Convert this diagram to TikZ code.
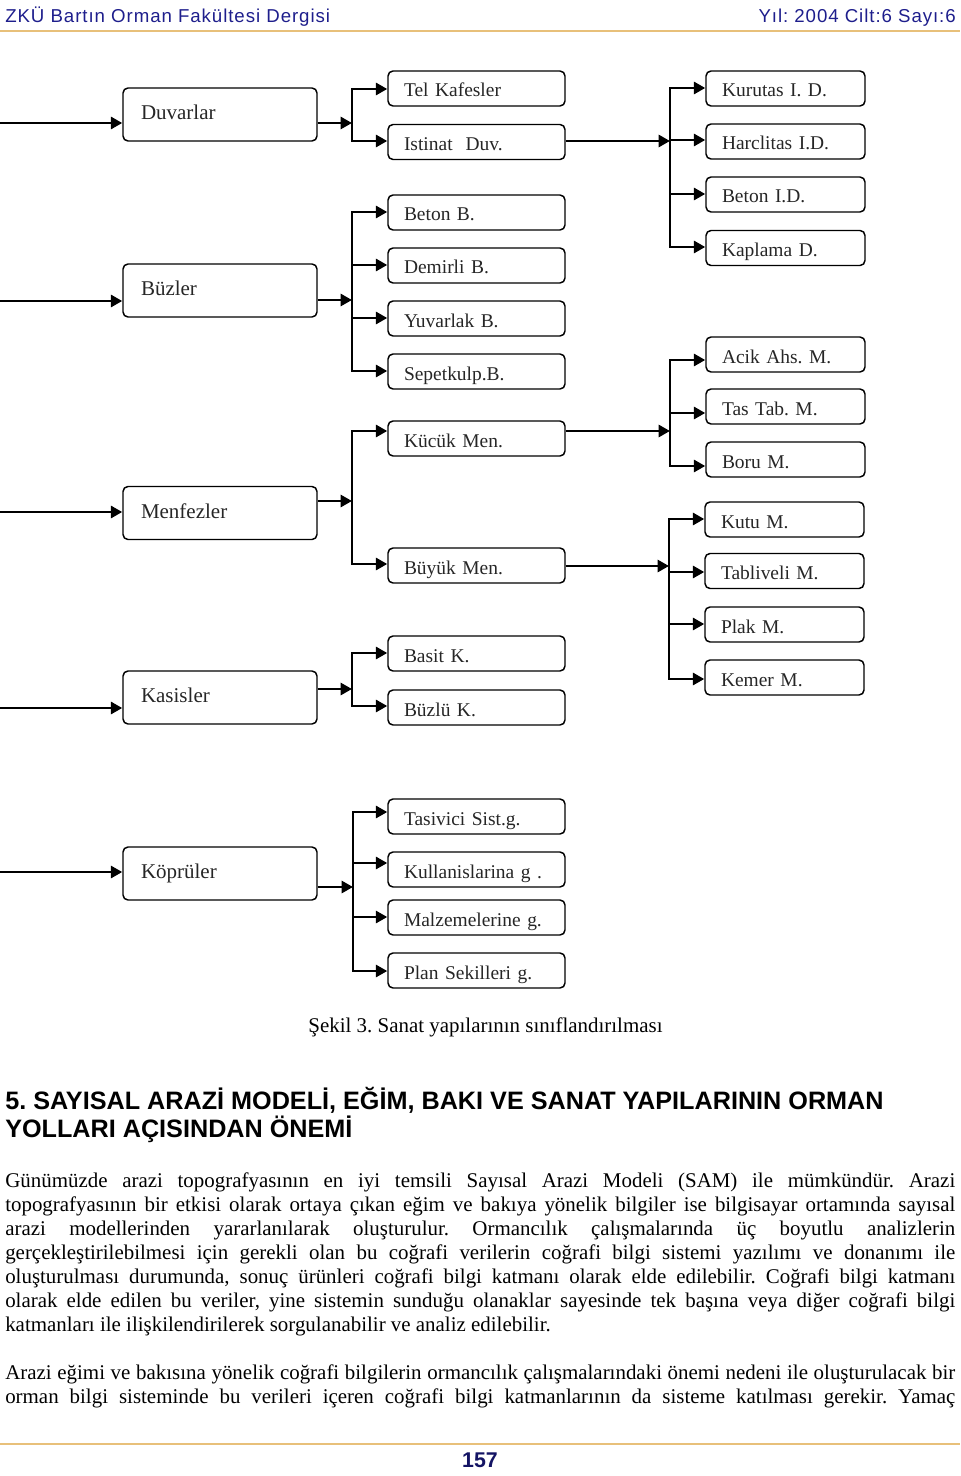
\documentclass[tikz,border=0pt]{standalone}
\usepackage{fontspec}
\setmainfont{Liberation Serif}
\newfontfamily\hdrfont[LetterSpace=5]{Liberation Sans}
\newfontfamily\headfont{Liberation Sans}
\usetikzlibrary{arrows.meta}
\definecolor{navy}{RGB}{30,30,140}
\definecolor{pagenum}{RGB}{20,20,100}
\definecolor{rulegold}{RGB}{232,192,122}
\begin{document}
\frenchspacing
\begin{tikzpicture}[x=0.75pt,y=-0.75pt,
  conn/.style={line width=2pt, draw=black},
  vert/.style={conn, line cap=rect},
  arr/.style={conn, -{Triangle[length=8.5pt,width=9pt]}},
  box/.style={draw=black, line width=1.1pt, rounded corners=3.75pt, align=left, inner ysep=0pt, text=black!85},
  mainbox/.style={box, text width=118.5pt, inner xsep=13.5pt, minimum height=39.75pt, text height=8pt, text depth=0.5pt, font=\fontsize{15.75pt}{18pt}\selectfont},
  subbox/.style={box, text width=108.75pt, inner xsep=12pt, minimum height=26.25pt, text height=13pt, text depth=0.25pt, font=\fontsize{14.6pt}{17pt}\selectfont},
  leafbox/.style={box, text width=95.25pt, inner xsep=12pt, minimum height=26.25pt, text height=13pt, text depth=0.25pt, font=\fontsize{14.6pt}{17pt}\selectfont},
  hdr/.style={inner sep=0pt, text=navy, font=\hdrfont\fontsize{14pt}{16pt}\selectfont},
  rule/.style={draw=rulegold, line width=1.8pt}
]
\useasboundingbox (0,0) rectangle (960,1476);

% header and footer
\node[hdr, anchor=base west] (hl) at (5,22.5) {ZKÜ Bartın Orman Fakültesi Dergisi};
\node[hdr, anchor=base east] (hr) at (956,22.5) {Yıl: 2004 Cilt:6 Sayı:6};
\draw[rule] (0,31) -- (960,31);
\draw[rule] (0,1444) -- (960,1444);
\node[anchor=base, inner sep=0pt, text=pagenum, font=\headfont\bfseries\fontsize{16pt}{18pt}\selectfont] (pg) at (480,1467) {157};

% main boxes
\node[mainbox] (duv) at (220,114.5) {Duvarlar};
\node[mainbox] (buz) at (220,290.5) {Büzler};
\node[mainbox] (men) at (220,513) {Menfezler};
\node[mainbox] (kas) at (220,697.5) {Kasisler};
\node[mainbox] (kop) at (220,873.5) {Köprüler};

% second column
\node[subbox] (tel) at (476.5,88.5) {Tel Kafesler};
\node[subbox] (ist) at (476.5,142) {Istinat\ \ Duv.};
\node[subbox] (bet) at (476.5,212.5) {Beton B.};
\node[subbox] (dem) at (476.5,265.5) {Demirli B.};
\node[subbox] (yuv) at (476.5,318.5) {Yuvarlak B.};
\node[subbox] (sep) at (476.5,371.5) {Sepetkulp.B.};
\node[subbox] (kuc) at (476.5,438.5) {Kücük Men.};
\node[subbox] (buy) at (476.5,565.5) {Büyük Men.};
\node[subbox] (bas) at (476.5,653.5) {Basit K.};
\node[subbox] (bzk) at (476.5,707.5) {Büzlü K.};
\node[subbox] (tas) at (476.5,816.5) {Tasivici Sist.g.};
\node[subbox] (kul) at (476.5,869.5) {Kullanislarina g .};
\node[subbox] (mal) at (476.5,917.5) {Malzemelerine g.};
\node[subbox] (pln) at (476.5,970.5) {Plan Sekilleri g.};

% third column
\node[leafbox] (kur) at (785.5,88.5) {Kurutas I. D.};
\node[leafbox] (har) at (785.5,141.5) {Harclitas I.D.};
\node[leafbox] (bid) at (785.5,194.5) {Beton I.D.};
\node[leafbox] (kap) at (785.5,248) {Kaplama D.};
\node[leafbox] (aci) at (785.5,354.5) {Acik Ahs. M.};
\node[leafbox] (ttb) at (785.5,406.5) {Tas Tab. M.};
\node[leafbox] (bor) at (785.5,459.5) {Boru M.};
\node[leafbox] (kut) at (784.5,519.5) {Kutu M.};
\node[leafbox] (tbl) at (784.5,571) {Tabliveli M.};
\node[leafbox] (plk) at (784.5,624.5) {Plak M.};
\node[leafbox] (kem) at (784.5,677.5) {Kemer M.};

% junctions and free ends
\coordinate (inD) at (0,123);
\coordinate (inB) at (0,301);
\coordinate (inM) at (0,512);
\coordinate (inK) at (0,708);
\coordinate (inKo) at (0,872);
\coordinate (jD) at (352,123);
\coordinate (jB) at (352,300);
\coordinate (jM) at (352,501);
\coordinate (jK) at (352,689);
\coordinate (jKo) at (353,887);
\coordinate (jI) at (670,141);
\coordinate (jKc) at (670,431);
\coordinate (jBy) at (669,566);

% input arrows
\draw[arr] (inD) -- (duv.west |- inD);
\draw[arr] (inB) -- (buz.west |- inB);
\draw[arr] (inM) -- (men.west |- inM);
\draw[arr] (inK) -- (kas.west |- inK);
\draw[arr] (inKo) -- (kop.west |- inKo);

% Duvarlar
\draw[arr] (duv.east |- jD) -- (jD);
\draw[vert] (jD |- 0,89) -- (jD |- 0,141);
\draw[arr] (jD |- 0,89) -- (tel.west |- 0,89);
\draw[arr] (jD |- 0,141) -- (ist.west |- 0,141);

% Buzler
\draw[arr] (buz.east |- jB) -- (jB);
\draw[vert] (jB |- 0,212) -- (jB |- 0,371);
\draw[arr] (jB |- 0,212) -- (bet.west |- 0,212);
\draw[arr] (jB |- 0,265) -- (dem.west |- 0,265);
\draw[arr] (jB |- 0,318) -- (yuv.west |- 0,318);
\draw[arr] (jB |- 0,371) -- (sep.west |- 0,371);

% Menfezler
\draw[arr] (men.east |- jM) -- (jM);
\draw[vert] (jM |- 0,431) -- (jM |- 0,564);
\draw[arr] (jM |- 0,431) -- (kuc.west |- 0,431);
\draw[arr] (jM |- 0,564) -- (buy.west |- 0,564);

% Kasisler
\draw[arr] (kas.east |- jK) -- (jK);
\draw[vert] (jK |- 0,653) -- (jK |- 0,706);
\draw[arr] (jK |- 0,653) -- (bas.west |- 0,653);
\draw[arr] (jK |- 0,706) -- (bzk.west |- 0,706);

% Kopruler
\draw[arr] (kop.east |- jKo) -- (jKo);
\draw[vert] (jKo |- 0,812) -- (jKo |- 0,971);
\draw[arr] (jKo |- 0,812) -- (tas.west |- 0,812);
\draw[arr] (jKo |- 0,863) -- (kul.west |- 0,863);
\draw[arr] (jKo |- 0,917) -- (mal.west |- 0,917);
\draw[arr] (jKo |- 0,971) -- (pln.west |- 0,971);

% Istinat
\draw[arr] (ist.east |- jI) -- (jI);
\draw[vert] (jI |- 0,88) -- (jI |- 0,247);
\draw[arr] (jI |- 0,88) -- (kur.west |- 0,88);
\draw[arr] (jI |- 0,140) -- (har.west |- 0,140);
\draw[arr] (jI |- 0,194) -- (bid.west |- 0,194);
\draw[arr] (jI |- 0,247) -- (kap.west |- 0,247);

% Kucuk Men.
\draw[arr] (kuc.east |- jKc) -- (jKc);
\draw[vert] (jKc |- 0,360) -- (jKc |- 0,466);
\draw[arr] (jKc |- 0,360) -- (aci.west |- 0,360);
\draw[arr] (jKc |- 0,413) -- (ttb.west |- 0,413);
\draw[arr] (jKc |- 0,466) -- (bor.west |- 0,466);

% Buyuk Men.
\draw[arr] (buy.east |- jBy) -- (jBy);
\draw[vert] (jBy |- 0,519) -- (jBy |- 0,679);
\draw[arr] (jBy |- 0,519) -- (kut.west |- 0,519);
\draw[arr] (jBy |- 0,572) -- (tbl.west |- 0,572);
\draw[arr] (jBy |- 0,624) -- (plk.west |- 0,624);
\draw[arr] (jBy |- 0,679) -- (kem.west |- 0,679);

% caption
\node[anchor=base, inner sep=0pt, font=\fontsize{15.7pt}{18pt}\selectfont] (cap) at (485.5,1032) {Şekil 3. Sanat yapılarının sınıflandırılması};

% heading
\node[anchor=base west, inner sep=0pt] (head) at (5,1109) {\parbox[t]{700pt}{\raggedright\headfont\bfseries\fontsize{18.9pt}{21pt}\selectfont 5. SAYISAL ARAZİ MODELİ, EĞİM, BAKI VE SANAT YAPILARININ ORMAN\\YOLLARI AÇISINDAN ÖNEMİ}};

% body
\node[anchor=base west, inner sep=0pt] (body) at (5,1187) {\parbox[t]{712.5pt}{\fontsize{15.7pt}{18pt}\selectfont
\makebox[\linewidth][s]{Günümüzde arazi topografyasının en iyi temsili Sayısal Arazi Modeli (SAM) ile mümkündür. Arazi}\\
\makebox[\linewidth][s]{topografyasının bir etkisi olarak ortaya çıkan eğim ve bakıya yönelik bilgiler ise bilgisayar ortamında sayısal}\\
\makebox[\linewidth][s]{arazi modellerinden yararlanılarak oluşturulur. Ormancılık çalışmalarında üç boyutlu analizlerin}\\
\makebox[\linewidth][s]{gerçekleştirilebilmesi için gerekli olan bu coğrafi verilerin coğrafi bilgi sistemi yazılımı ve donanımı ile}\\
\makebox[\linewidth][s]{oluşturulması durumunda, sonuç ürünleri coğrafi bilgi katmanı olarak elde edilebilir. Coğrafi bilgi katmanı}\\
\makebox[\linewidth][s]{olarak elde edilen bu veriler, yine sistemin sunduğu olanaklar sayesinde tek başına veya diğer coğrafi bilgi}\\
\mbox{katmanları ile ilişkilendirilerek sorgulanabilir ve analiz edilebilir.}\\[18pt]
\makebox[\linewidth][s]{Arazi eğimi ve bakısına yönelik coğrafi bilgilerin ormancılık çalışmalarındaki önemi nedeni ile oluşturulacak bir}\\
\makebox[\linewidth][s]{orman bilgi sisteminde bu verileri içeren coğrafi bilgi katmanlarının da sisteme katılması gerekir. Yamaç}}};
\end{tikzpicture}
\end{document}
